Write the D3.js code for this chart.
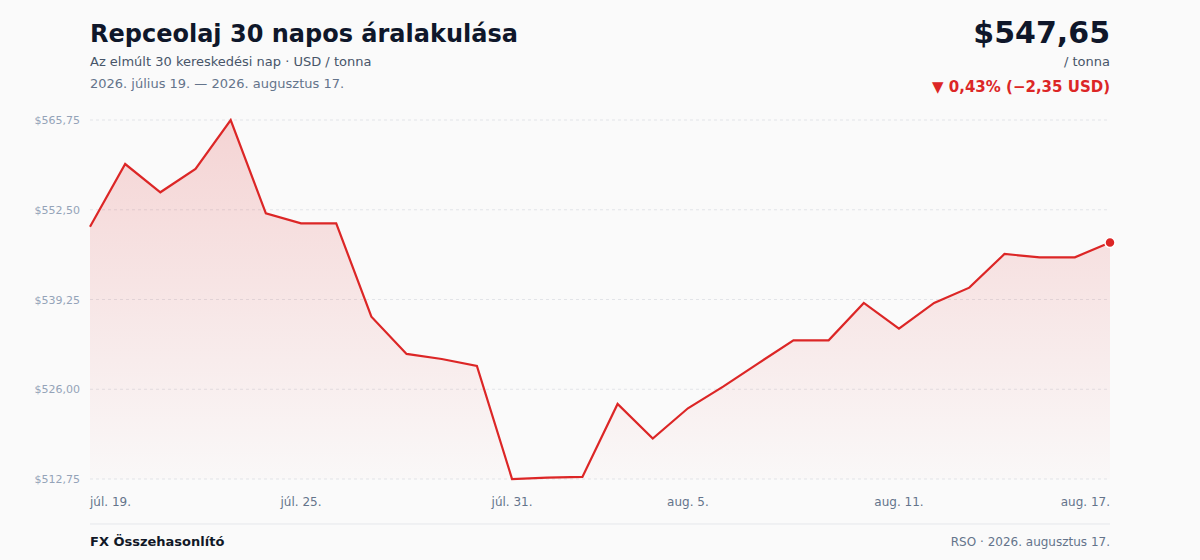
<!DOCTYPE html>
<html>
<head>
<meta charset="utf-8">
<script src="https://cdn.jsdelivr.net/npm/d3@7"></script>
<style>
  html, body { margin: 0; padding: 0; background: #fafafa; }
  svg { display: block; font-family: "DejaVu Sans", sans-serif; }
</style>
</head>
<body>
<svg width="1200" height="560"></svg>
<script>
(function() {

  // dates, one per trading day
  var days = ['júl. 19.', 'júl. 20.', 'júl. 21.', 'júl. 22.', 'júl. 23.', 'júl. 24.',
    'júl. 25.', 'júl. 26.', 'júl. 27.', 'júl. 28.', 'júl. 29.', 'júl. 30.', 'júl. 31.',
    'aug. 1.', 'aug. 2.', 'aug. 3.', 'aug. 4.', 'aug. 5.', 'aug. 6.', 'aug. 7.',
    'aug. 8.', 'aug. 9.', 'aug. 10.', 'aug. 11.', 'aug. 12.', 'aug. 13.', 'aug. 14.',
    'aug. 15.', 'aug. 16.', 'aug. 17.'];
  var prices = [550.00, 559.25, 555.08, 558.52, 565.75, 551.97, 550.50, 550.50,
    536.72, 531.21, 530.47, 529.43, 512.75, 512.95, 513.05, 523.83, 518.71,
    523.19, 526.38, 529.83, 533.22, 533.22, 538.74, 534.95, 538.74, 541.00,
    545.97, 545.48, 545.48, 547.65];
  var xTickIdx = [0, 6, 12, 17, 23, 29];
  var yTicks = [512.75, 526.00, 539.25, 552.50, 565.75];

  var fmt = function(v) { return '$' + v.toFixed(2).replace('.', ','); };

  var svg = d3.select('svg');
  var left = 90, right = 1110, top = 120, bottom = 479;

  var x = d3.scaleLinear().domain([0, prices.length - 1]).range([left, right]);
  var y = d3.scaleLinear().domain([512.75, 565.75]).range([bottom, top]);

  // header
  svg.append('text').attr('x', 90).attr('y', 42)
    .attr('font-size', 24).attr('font-weight', 'bold').attr('fill', '#0f172a')
    .text('Repceolaj 30 napos áralakulása');
  svg.append('text').attr('x', 90).attr('y', 66)
    .attr('font-size', 13).attr('fill', '#475569')
    .text('Az elmúlt 30 kereskedési nap · USD / tonna');
  svg.append('text').attr('x', 90).attr('y', 88)
    .attr('font-size', 13).attr('fill', '#64748b')
    .text('2026. július 19. — 2026. augusztus 17.');

  var last = prices[prices.length - 1], first = prices[0];
  var diff = last - first, pct = diff / first * 100;
  svg.append('text').attr('x', 1110).attr('y', 43).attr('text-anchor', 'end')
    .attr('font-size', 30).attr('font-weight', 'bold').attr('fill', '#0f172a')
    .text(fmt(last));
  svg.append('text').attr('x', 1110).attr('y', 66).attr('text-anchor', 'end')
    .attr('font-size', 13).attr('fill', '#475569')
    .text('/ tonna');
  svg.append('text').attr('x', 1110).attr('y', 92).attr('text-anchor', 'end')
    .attr('font-size', 15).attr('font-weight', 'bold').attr('fill', '#dc2626')
    .text('▼ ' + Math.abs(pct).toFixed(2).replace('.', ',') + '% (−' +
      Math.abs(diff).toFixed(2).replace('.', ',') + ' USD)');

  // gradient for the area
  var grad = svg.append('defs').append('linearGradient')
    .attr('id', 'fillGrad')
    .attr('gradientUnits', 'userSpaceOnUse')
    .attr('x1', 0).attr('x2', 0).attr('y1', top).attr('y2', bottom);
  grad.append('stop').attr('offset', '0%').attr('stop-color', '#dc2626').attr('stop-opacity', 0.18);
  grad.append('stop').attr('offset', '100%').attr('stop-color', '#dc2626').attr('stop-opacity', 0.01);

  // gridlines and y labels
  svg.selectAll('.grid').data(yTicks).enter().append('line')
    .attr('class', 'grid')
    .attr('x1', left).attr('x2', right)
    .attr('y1', function(d) { return y(d); })
    .attr('y2', function(d) { return y(d); })
    .attr('stroke', '#e2e4e8').attr('stroke-width', 1)
    .attr('stroke-dasharray', '3,3');
  svg.selectAll('.ylab').data(yTicks).enter().append('text')
    .attr('class', 'ylab')
    .attr('x', 80).attr('y', function(d) { return y(d) + 4; })
    .attr('text-anchor', 'end').attr('font-size', 11).attr('fill', '#94a3b8')
    .text(fmt);

  // area + line
  var area = d3.area()
    .x(function(d, i) { return x(i); })
    .y0(bottom)
    .y1(function(d) { return y(d); });
  var line = d3.line()
    .x(function(d, i) { return x(i); })
    .y(function(d) { return y(d); });

  svg.append('path').datum(prices).attr('d', area).attr('fill', 'url(#fillGrad)');
  svg.append('path').datum(prices).attr('d', line)
    .attr('fill', 'none').attr('stroke', '#dc2626').attr('stroke-width', 2.2)
    .attr('stroke-linejoin', 'miter');

  svg.append('circle')
    .attr('cx', x(prices.length - 1)).attr('cy', y(last)).attr('r', 5)
    .attr('fill', '#dc2626').attr('stroke', '#fff').attr('stroke-width', 1.5);

  // x labels
  svg.selectAll('.xlab').data(xTickIdx).enter().append('text')
    .attr('class', 'xlab')
    .attr('x', function(d) { return x(d); })
    .attr('y', 506)
    .attr('text-anchor', function(d, i) {
      if (i === 0) return 'start';
      if (i === xTickIdx.length - 1) return 'end';
      return 'middle';
    })
    .attr('font-size', 12).attr('fill', '#64748b')
    .text(function(d) { return days[d]; });

  // footer
  svg.append('line').attr('x1', left).attr('x2', right).attr('y1', 524).attr('y2', 524)
    .attr('stroke', '#e5e7eb').attr('stroke-width', 1);
  svg.append('text').attr('x', 90).attr('y', 546)
    .attr('font-size', 13).attr('font-weight', 'bold').attr('fill', '#111827')
    .text('FX Összehasonlító');
  svg.append('text').attr('x', 1110).attr('y', 546).attr('text-anchor', 'end')
    .attr('font-size', 12).attr('fill', '#64748b')
    .text('RSO · 2026. augusztus 17.');

})();
</script>
</body>
</html>
